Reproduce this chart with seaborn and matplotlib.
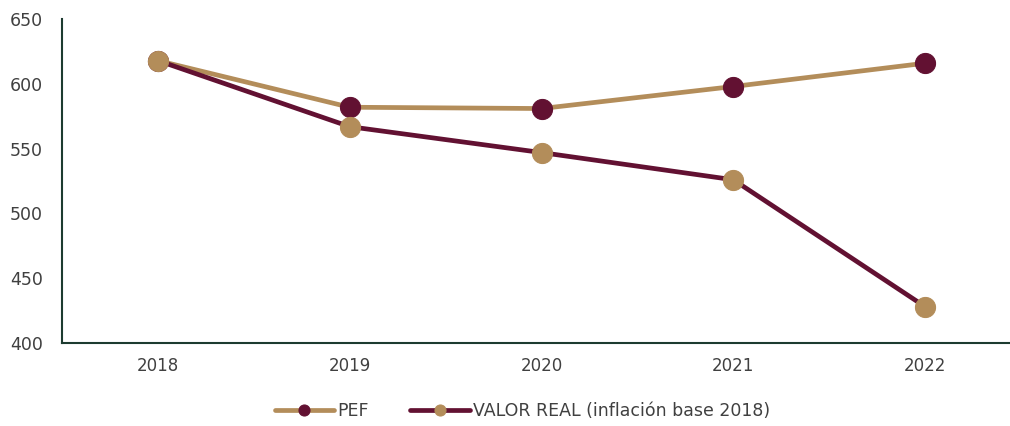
import pandas as pd
import matplotlib.pyplot as plt
import seaborn as sns

# ── DATA ────────────────────────────────────────────────────
years = [2018, 2019, 2020, 2021, 2022]
pef = [618, 582, 581, 598, 616]
valor_real = [618, 567, 547, 526, 428]

tan = '#b38d5a'
maroon = '#621132'
text_color = '#404040'

df = pd.DataFrame({'year': years, 'PEF': pef, 'VALOR REAL': valor_real})

sns.set_style('white')
plt.rcParams['font.family'] = ['DejaVu Sans']

fig = plt.figure(figsize=(10.1, 4.26), dpi=100)
ax = fig.add_axes([0.0614, 0.195, 0.94, 0.76])

sns.lineplot(data=df, x='year', y='PEF', ax=ax, color=tan, linewidth=3.4,
             marker='o', markersize=14.5, markerfacecolor=maroon,
             markeredgecolor=maroon, label='PEF')
sns.lineplot(data=df, x='year', y='VALOR REAL', ax=ax, color=maroon, linewidth=3.4,
             marker='o', markersize=14.5, markerfacecolor=tan,
             markeredgecolor=tan, label='VALOR REAL (inflación base 2018)')

ax.set_xlim(2017.5, 2022.45)
ax.set_ylim(400, 650)
ax.set_xticks(years)
ax.set_yticks(range(400, 651, 50))
ax.set_xlabel('')
ax.set_ylabel('')
ax.tick_params(axis='both', length=0, labelsize=12, colors=text_color)
ax.tick_params(axis='y', labelsize=12.5, pad=14)
ax.tick_params(axis='x', pad=10)

for side in ['top', 'right']:
    ax.spines[side].set_visible(False)
for side in ['left', 'bottom']:
    ax.spines[side].set_color('#1d3b30')
    ax.spines[side].set_linewidth(1.5)

leg = ax.legend(loc='center', bbox_to_anchor=(0.485, -0.21), ncol=2, frameon=False,
                fontsize=12.5, handlelength=3.4, columnspacing=2.4, handletextpad=0.2,
                markerscale=0.55)
for t in leg.get_texts():
    t.set_color(text_color)

plt.savefig('out.png', dpi=100)
